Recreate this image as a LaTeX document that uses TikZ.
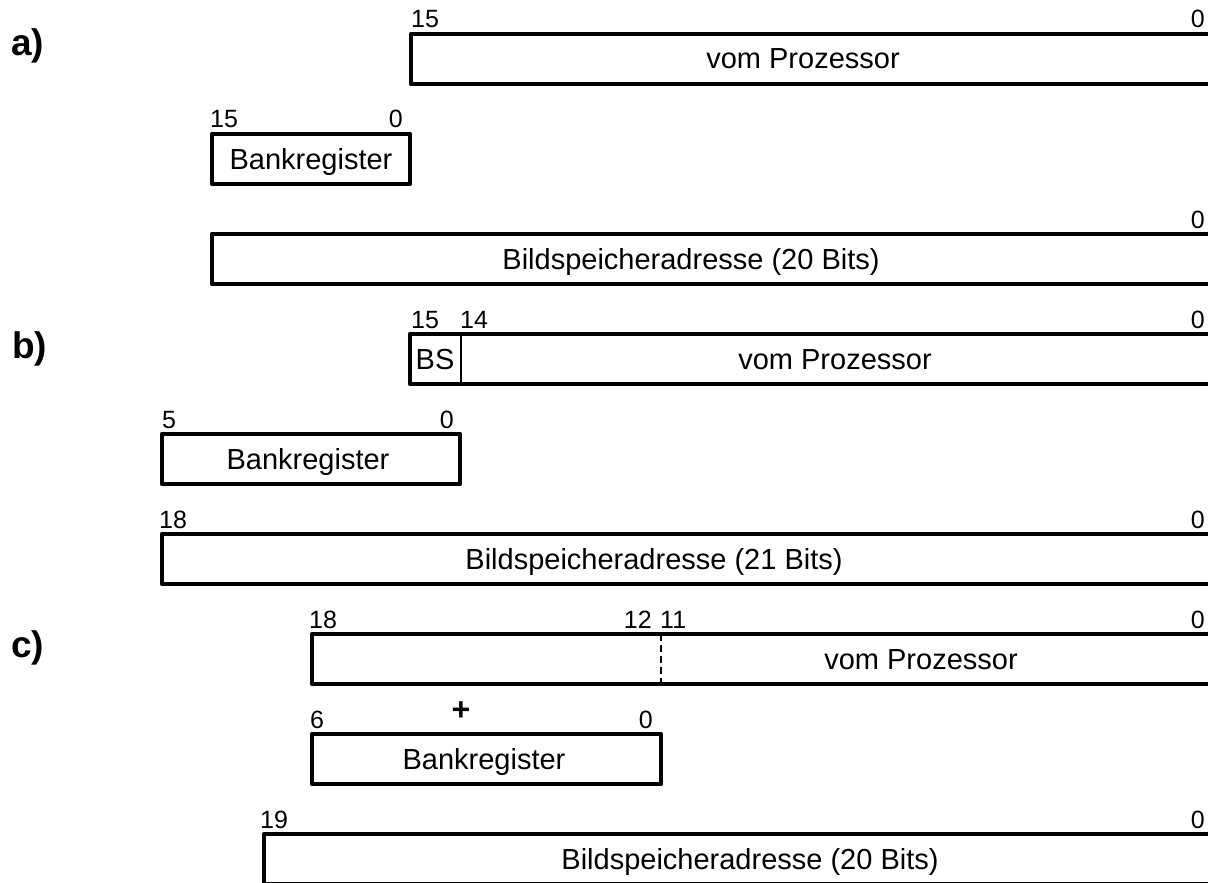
\documentclass[tikz,border=0pt]{standalone}
\usepackage{fontspec}
\setmainfont{Liberation Sans}
\begin{document}
\begin{tikzpicture}[x=1pt,y=-1pt,
  reg/.style={draw, line width=4.4pt, line join=round, inner sep=0pt, outer sep=0pt, anchor=north west, minimum height=50pt},
  num/.style={font=\fontsize{25}{25}\selectfont, inner sep=0pt},
  numl/.style={num, anchor=base west},
  numr/.style={num, anchor=base east},
  txt/.style={font=\fontsize{29}{29}\selectfont, inner sep=0pt, anchor=base},
  lab/.style={font=\fontsize{37}{37}\selectfont\bfseries, inner sep=0pt, anchor=base west},
  divider/.style={line width=2pt},
  dashdiv/.style={line width=2pt, dash pattern=on 7pt off 4pt}]
\useasboundingbox (0,0) rectangle (1208,883);
\clip (0,0) rectangle (1208,883);

% ---------- a) ----------
\node[lab] (la) at (11,56) {a)};
\node[reg, minimum width=801pt] (atop) at (411,34) {};
\node[reg, minimum width=198pt] (abank) at (212,134) {};
\node[reg, minimum width=1000pt] (abild) at (212,234) {};
\node[txt] (atopt) at (803,69) {vom Prozessor};
\node[txt] (abankt) at (311,169) {Bankregister};
\node[txt] (abildt) at (691,269) {Bildspeicheradresse (20 Bits)};
\node[numl] (atop15) at (411,28) {15};
\node[numr] (atop0) at (1205,28) {0};
\node[numl] (abank15) at (210,128) {15};
\node[numr] (abank0) at (403,128) {0};
\node[numr] (abild0) at (1205,228) {0};

% ---------- b) ----------
\node[lab] (lb) at (12,358) {b)};
\node[reg, minimum width=802pt] (btop) at (410,334) {};
\node[reg, minimum width=298pt] (bbank) at (162,434) {};
\node[reg, minimum width=1050pt] (bbild) at (162,534) {};
\coordinate (bdivt) at (461,334);
\coordinate (bdivb) at (461,384);
\draw[divider] (bdivt) -- (bdivb);
\node[txt] (bbs) at (435,369) {BS};
\node[txt] (btopt) at (835,369) {vom Prozessor};
\node[txt] (bbankt) at (308,469) {Bankregister};
\node[txt] (bbildt) at (654,569) {Bildspeicheradresse (21 Bits)};
\node[numl] (btop15) at (411,328) {15};
\node[numl] (btop14) at (460,328) {14};
\node[numr] (btop0) at (1205,328) {0};
\node[numl] (bbank5) at (162,428) {5};
\node[numr] (bbank0) at (454,428) {0};
\node[numl] (bbild18) at (159,528) {18};
\node[numr] (bbild0) at (1205,528) {0};

% ---------- c) ----------
\node[lab] (lc) at (11,657) {c)};
\node[reg, minimum width=900pt] (ctop) at (312,634) {};
\node[reg, minimum width=349pt] (cbank) at (312,734) {};
\node[reg, minimum width=948pt] (cbild) at (264,834) {};
\coordinate (cdivt) at (661,634);
\coordinate (cdivb) at (661,684);
\draw[dashdiv] (cdivt) -- (cdivb);
\node[txt] (ctopt) at (921,669) {vom Prozessor};
\node[txt] (cbankt) at (484,769) {Bankregister};
\node[txt] (cbildt) at (750,869) {Bildspeicheradresse (20 Bits)};
\node[numl] (ctop18) at (309,628) {18};
\node[numr] (ctop12) at (652,628) {12};
\node[numl] (ctop11) at (660,628) {11};
\node[numr] (ctop0) at (1205,628) {0};
\node[numl] (cbank6) at (310,728) {6};
\node[numr] (cbank0) at (653,728) {0};
\node[font=\fontsize{32}{32}\selectfont\bfseries, inner sep=0pt] (plus) at (461,711) {+};
\node[numl] (cbild19) at (260,828) {19};
\node[numr] (cbild0) at (1205,828) {0};
\end{tikzpicture}
\end{document}
